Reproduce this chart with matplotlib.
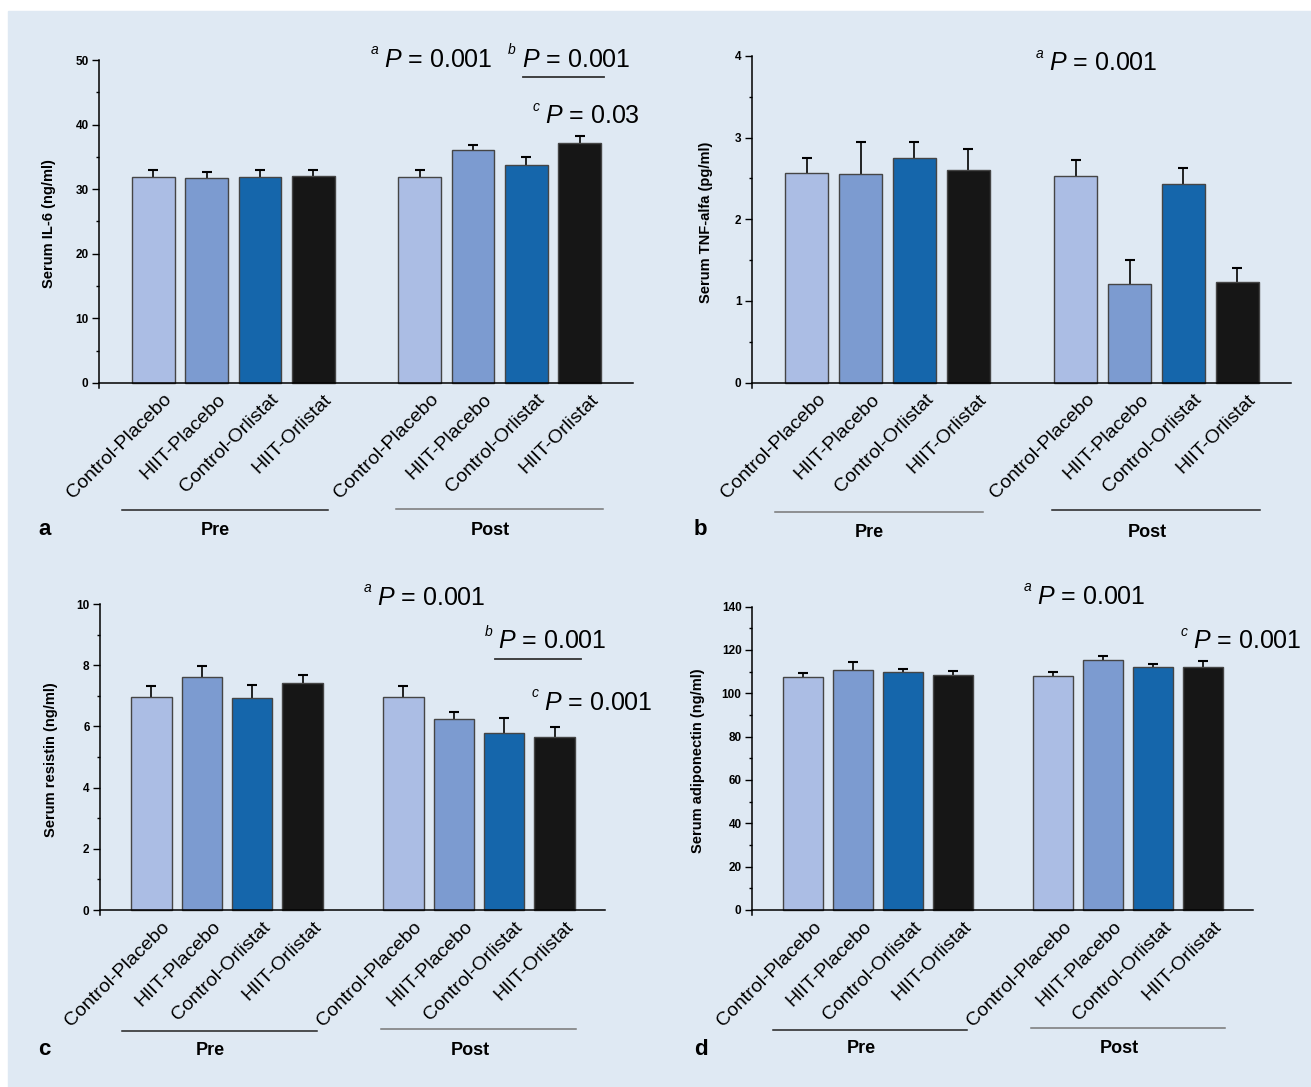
import numpy as np
import matplotlib
matplotlib.use("Agg")
import matplotlib.pyplot as plt
import matplotlib.transforms as mtransforms
from matplotlib.patches import Rectangle
from matplotlib.ticker import MultipleLocator

plt.rcParams["font.family"] = ["Liberation Sans", "DejaVu Sans"]
plt.rcParams["mathtext.fontset"] = "custom"
plt.rcParams["mathtext.it"] = "Liberation Sans:italic"
plt.rcParams["mathtext.rm"] = "Liberation Sans"

# --- data ---
groups = ["Control-Placebo", "HIIT-Placebo", "Control-Orlistat", "HIIT-Orlistat"]
phases = ["Pre", "Post"]

il6_mean = [31.8, 31.7, 31.9, 32.1, 31.8, 36.1, 33.8, 37.1]
il6_err = [1.1, 0.9, 1.0, 0.8, 1.1, 0.7, 1.1, 1.1]

tnf_mean = [2.57, 2.55, 2.75, 2.60, 2.53, 1.21, 2.43, 1.23]
tnf_err = [0.18, 0.40, 0.20, 0.26, 0.19, 0.29, 0.20, 0.17]

res_mean = [6.96, 7.63, 6.92, 7.42, 6.97, 6.24, 5.78, 5.67]
res_err = [0.36, 0.34, 0.42, 0.25, 0.35, 0.22, 0.48, 0.32]

adi_mean = [107.7, 110.6, 109.8, 108.6, 107.8, 115.2, 112.0, 112.3]
adi_err = [1.7, 3.7, 1.6, 1.9, 1.9, 2.0, 1.7, 2.6]

colors = ["#abbde4", "#7c9bd0", "#1566ab", "#161616"]
BG = "#dfe9f3"

# bar slots: 4 groups pre, gap, 4 groups post
xpos = np.array([0, 1, 2, 3, 5, 6, 7, 8])


def panel(ax, mean, err, ymax, major, ylabel, ylab_x, line_cols, notes):
    mean = np.array(mean)
    top = mean + np.array(err)
    lo = -0.016 * ymax
    ax.patch.set_alpha(0)
    ax.bar(xpos, mean, width=0.8, color=colors * 2, edgecolor="#454545",
           linewidth=1.0, zorder=2)
    # upper half of the error bars only
    ax.vlines(xpos, mean, top, color="black", lw=1.2, zorder=1)
    ax.plot(xpos, top, ls="none", marker="_", ms=7, mew=1.5, color="black",
            zorder=1)
    ax.set_xlim(-1.02, 9.0)
    ax.set_ylim(lo, ymax)
    for s in ["top", "right"]:
        ax.spines[s].set_visible(False)
    ax.spines["bottom"].set_position(("data", 0))
    ax.spines["left"].set_linewidth(1.1)
    ax.spines["bottom"].set_linewidth(1.1)
    ax.yaxis.set_major_locator(MultipleLocator(major))
    ax.yaxis.set_minor_locator(MultipleLocator(major / 2))
    ax.set_yticks(np.arange(0, ymax + major / 2, major))
    ax.tick_params(axis="y", which="major", length=5, width=1, pad=2.5,
                   labelsize=8.5)
    ax.tick_params(axis="y", which="minor", length=2.5, width=1)
    for t in ax.get_yticklabels():
        t.set_fontweight("bold")
    ax.set_ylabel(ylabel, fontsize=10.5, fontweight="bold")
    ax.yaxis.set_label_coords(ylab_x, 0.5)

    ax.set_xticks(xpos)
    ax.set_xticklabels(groups * 2, rotation=45, ha="right", va="top",
                       rotation_mode="anchor", fontsize=14)
    ax.tick_params(axis="x", length=0, pad=6)
    shift = mtransforms.ScaledTranslation(0.10, 0, ax.figure.dpi_scale_trans)
    for t in ax.get_xticklabels():
        t.set_transform(t.get_transform() + shift)

    # Pre / Post brackets under the labels
    tr = ax.get_xaxis_transform()
    spans = [(-0.59, 3.28), (4.56, 8.43)]
    centers = [1.16, 6.33]
    for (a, b), c, name, lc, yl in zip(spans, centers, phases, line_cols,
                                       [-0.373, -0.368]):
        ax.plot([a, b], [yl, yl], color=lc, lw=1.1, transform=tr,
                clip_on=False)
        ax.text(c, -0.435, name, transform=tr, ha="center", va="center",
                fontsize=13, fontweight="bold")

    # significance notes
    for letter, x, y, ul in notes:
        ax.text(x, y, "$P$ = " + ("0.03" if letter == "c" and ymax == 50
                                  else "0.001"),
                fontsize=18, ha="left", va="baseline", clip_on=False)
        ax.annotate(letter, xy=(x, y), xytext=(-4, 9),
                    textcoords="offset points", ha="right", va="baseline",
                    fontsize=10, style="italic", annotation_clip=False)
        if ul is not None:
            ax.plot(ul[0], [ul[1], ul[1]], color="#333333", lw=1.3,
                    clip_on=False)


fig = plt.figure(figsize=(13.11, 10.87), dpi=100, facecolor="white")
fig.patches.append(Rectangle((8 / 1311, 0), 1, 1 - 11 / 1087,
                             transform=fig.transFigure, color=BG, zorder=-10))

ax_a = fig.add_axes([0.0755, 0.6431, 0.4073, 0.3017])
ax_b = fig.add_axes([0.5736, 0.6431, 0.4111, 0.3056])
ax_c = fig.add_axes([0.0763, 0.1583, 0.3852, 0.2860])
ax_d = fig.add_axes([0.5736, 0.1584, 0.3822, 0.2835])

panel(ax_a, il6_mean, il6_err, 50, 10, "Serum IL-6 (ng/ml)", -0.081,
      ["#222222", "#777777"],
      [("a", 4.33, 48.96, None),
       ("b", 6.91, 48.96, ((6.94, 8.46), 47.4)),
       ("c", 7.35, 40.2, None)])
panel(ax_b, tnf_mean, tnf_err, 4, 1, "Serum TNF-alfa (pg/ml)", -0.073,
      ["#777777", "#222222"],
      [("a", 4.50, 3.82, None)])
panel(ax_c, res_mean, res_err, 10, 2, "Serum resistin (ng/ml)", -0.084,
      ["#222222", "#777777"],
      [("a", 4.48, 9.97, None),
       ("b", 6.88, 8.55, ((6.81, 8.52), 8.20)),
       ("c", 7.79, 6.54, None)])
panel(ax_d, adi_mean, adi_err, 140, 20, "Serum adiponectin (ng/ml)", -0.094,
      ["#222222", "#777777"],
      [("a", 4.68, 141.3, None),
       ("c", 7.80, 120.8, None)])

for letter, x, y in [("a", 0.029, 0.508), ("b", 0.5294, 0.508),
                     ("c", 0.029, 0.0294), ("d", 0.5294, 0.0294)]:
    fig.text(x, y, letter, fontsize=16, fontweight="bold", ha="left",
             va="baseline")

fig.savefig("out.png", dpi=100, facecolor=fig.get_facecolor())
